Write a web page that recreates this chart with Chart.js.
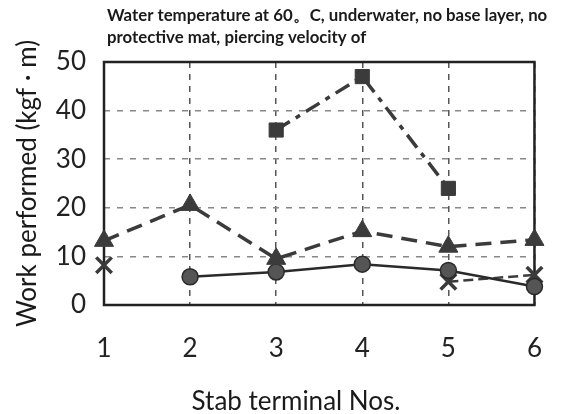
<!DOCTYPE html>
<html>
<head>
<meta charset="utf-8">
<script src="https://cdn.jsdelivr.net/npm/chart.js@4/dist/chart.umd.min.js"></script>
<style>
  html, body { margin: 0; padding: 0; background: #fff; }
  #wrap { width: 570px; height: 414px; }
</style>
</head>
<body>
<div id="wrap"><canvas id="workChart" width="570" height="414"></canvas></div>
<script>
const terminals = ["1", "2", "3", "4", "5", "6"];
const squareVals = [null, null, 36, 47, 24, null];
const triangleVals = [13.2, 20.6, 9.5, 15.2, 12, 13.4];
const circleVals = [null, 5.8, 6.8, 8.4, 7.1, 3.8];
const crossVals = [8.2, null, null, null, 4.8, 6.2];
const yTicks = [0, 10, 20, 30, 40, 50];

const titleLines = [
    "Water temperature at 60\u3002C, underwater, no base layer, no",
    "protective mat, piercing velocity of"
];
const xTitle = "Stab terminal Nos.";
const yTitle = "Work performed (kgf \u00b7 m)";

const ink = "#3b3b3b";

// frame round the plot and the texts outside the axes
const extras = {
    id: "extras",
    beforeDatasetsDraw(chart) {
        let a = chart.chartArea, ctx = chart.ctx;
        ctx.save();
        ctx.strokeStyle = "#222";
        ctx.lineWidth = 2.5;
        ctx.strokeRect(a.left, a.top, a.right - a.left, a.bottom - a.top);
        ctx.restore();
    },
    afterDraw(chart) {
        let ctx = chart.ctx;
        ctx.save();
        ctx.fillStyle = "#1a1a1a";
        ctx.textBaseline = "middle";
        ctx.textAlign = "left";
        ctx.font = "bold 14px Lato";
        let w = ctx.measureText(titleLines[0]).width;
        let size = 14 * 440 / w;
        ctx.font = "bold " + size.toFixed(1) + "px Lato";
        ctx.fillText(titleLines[0], 107, 16);
        ctx.fillText(titleLines[1], 107, 38);
        ctx.font = "26px Lato";
        ctx.textAlign = "center";
        ctx.fillText(xTitle, 296, 402);
        ctx.restore();
    }
};

new Chart(document.getElementById("workChart"), {
    type: "line",
    data: {
        labels: terminals,
        datasets: [{
            label: "square",
            data: squareVals,
            borderColor: ink,
            backgroundColor: ink,
            borderWidth: 3.5,
            borderDash: [16, 7, 5, 7],
            pointStyle: "rect",
            pointRadius: 10,
            pointBorderWidth: 1
        }, {
            label: "triangle",
            data: triangleVals,
            borderColor: ink,
            backgroundColor: ink,
            borderWidth: 3.5,
            borderDash: [16, 9],
            pointStyle: "triangle",
            pointRadius: 11,
            pointBorderWidth: 1
        }, {
            label: "circle",
            data: circleVals,
            borderColor: "#2a2a2a",
            backgroundColor: "#555",
            borderWidth: 2.5,
            pointStyle: "circle",
            pointRadius: 8,
            pointBorderWidth: 1.5
        }, {
            label: "cross",
            data: crossVals,
            borderColor: ink,
            backgroundColor: ink,
            borderWidth: 2.5,
            borderDash: [10, 5],
            pointStyle: "crossRot",
            pointRadius: 11,
            pointBorderWidth: 3.5
        }]
    },
    options: {
        responsive: false,
        animation: false,
        layout: { padding: { top: 62, right: 33, left: 0, bottom: 0 } },
        plugins: {
            legend: { display: false },
            title: { display: false },
            tooltip: { enabled: false }
        },
        scales: {
            x: {
                offset: false,
                afterFit(scale) { scale.height = 109; },
                grid: {
                    color: "#555",
                    lineWidth: 1.5,
                    drawTicks: false
                },
                border: { display: false, dash: [6, 6] },
                ticks: {
                    padding: 28,
                    color: "#222",
                    font: { family: "Lato", size: 26 }
                }
            },
            y: {
                min: 0,
                max: 50,
                afterFit(scale) { scale.width = 104; },
                afterBuildTicks(scale) { scale.ticks = yTicks.map(v => ({ value: v })); },
                grid: {
                    color: "#888",
                    lineWidth: 1.5,
                    drawTicks: false
                },
                border: { display: false, dash: [6, 7] },
                ticks: {
                    padding: 18,
                    color: "#222",
                    font: { family: "Lato", size: 26 }
                },
                title: {
                    display: true,
                    text: yTitle,
                    color: "#1a1a1a",
                    padding: { top: 12, bottom: 0 },
                    font: { family: "Lato", size: 26 }
                }
            }
        }
    },
    plugins: [extras]
});
</script>
</body>
</html>
